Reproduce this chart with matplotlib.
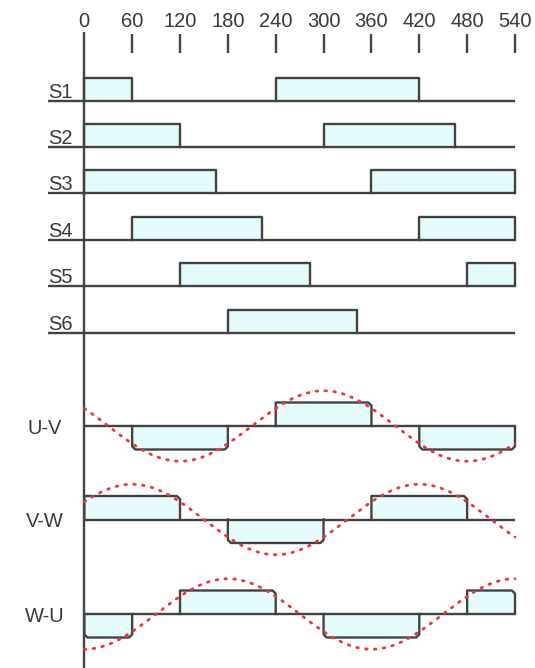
import matplotlib
matplotlib.use('Agg')
import matplotlib.pyplot as plt
import numpy as np

# ---------------- data ----------------
tick_degrees = [0, 60, 120, 180, 240, 300, 360, 420, 480, 540]

switch_names = ['S1', 'S2', 'S3', 'S4', 'S5', 'S6']
switch_on = [
    [(0, 60), (240, 420)],
    [(0, 120), (300, 465)],
    [(0, 165), (360, 540)],
    [(60, 223), (420, 540)],
    [(120, 283), (480, 540)],
    [(180, 342)],
]

line_names = ['U-V', 'V-W', 'W-U']
segment_edges = [0, 60, 120, 180, 240, 300, 360, 420, 480, 540]
line_levels = [
    [0, -1, -1, 0, 1, 1, 0, -1, -1],
    [1, 1, 0, -1, -1, 0, 1, 1, 0],
    [-1, 0, 1, 1, 0, -1, -1, 0, 1],
]
sine_peak_deg = [300, 60, 180]
sine_amp = 1.5

# ---------------- style / layout ----------------
W, H = 535, 668
X0PX, X540PX = 84.3, 515.0
scale = (X540PX - X0PX) / 540.0
LINE = '#424242'
FILL = '#e6fbfb'
RED = '#e8383a'
TXT = '#3a3a3a'
FONT = ['Liberation Sans', 'DejaVu Sans']
plt.rcParams['font.family'] = FONT
FS = 14.5

fig = plt.figure(figsize=(W / 100, H / 100), dpi=100)
ax = fig.add_axes([0, 0, 1, 1])
ax.set_xlim(-X0PX / scale, (W - X0PX) / scale)
ax.set_ylim(H, 0)
ax.axis('off')

def px(d):
    return d / scale

lw = 1.7

# top scale
for t in tick_degrees:
    if t == 0:
        ax.plot([t, t], [32, H], color=LINE, lw=lw, solid_capstyle='butt')
    else:
        ax.plot([t, t], [34, 53], color=LINE, lw=lw, solid_capstyle='butt')
    ax.text(t, 27, str(t), ha='center', va='baseline', fontsize=FS,
            color=TXT)

# switch rows
s_base0, s_step, s_h = 100.5, 46.4, 23
for i, (name, pulses) in enumerate(zip(switch_names, switch_on)):
    yb = s_base0 + i * s_step
    for a, b in pulses:
        ax.fill_between([a, b], [yb, yb], [yb - s_h, yb - s_h], color=FILL,
                        lw=0)
        ax.plot([a, a, b, b], [yb, yb - s_h, yb - s_h, yb], color=LINE, lw=lw)
    ax.plot([px(48 - X0PX), 540], [yb, yb], color=LINE, lw=lw,
            solid_capstyle='butt')
    ax.text(px(48 - X0PX), yb - 3, name, ha='left', va='baseline',
            fontsize=FS, color=TXT)

# line-voltage rows
v_base = [426, 519.5, 614]
v_h = 23.5
bx, by = 4.0, 0.13
xs_sine = np.linspace(0, 540, 400)
for name, levels, pk, yb in zip(line_names, line_levels, sine_peak_deg, v_base):
    segs = []
    for k, L in enumerate(levels):
        a, b = segment_edges[k], segment_edges[k + 1]
        if segs and segs[-1][2] == L:
            segs[-1][1] = b
        else:
            segs.append([a, b, L])
    for a, b, L in segs:
        if L == 0:
            continue
        yl = yb - L * v_h
        ax.fill_between([a, b], [yb, yb], [yl, yl], color=FILL, lw=0)
        if L < 0:
            xsq = [a, a, a + bx, b - bx, b, b]
            ysq = [yb, yb - L * v_h * (1 - by), yl, yl,
                   yb - L * v_h * (1 - by), yb]
        else:
            xsq = [a, a, b - bx, b, b]
            ysq = [yb, yl, yl, yb - L * v_h * (1 - by), yb]
        ax.plot(xsq, ysq, color=LINE, lw=lw)
    ax.plot([0, 540], [yb, yb], color=LINE, lw=lw, solid_capstyle='butt')
    ys = yb - sine_amp * v_h * np.cos(np.deg2rad(xs_sine - pk))
    ax.plot(xs_sine, ys, color=RED, lw=2.0, linestyle=(0, (0.6, 2.6)),
            dash_capstyle='round')
    ax.text(px(45 - X0PX), yb + 7.5, name, ha='center', va='baseline',
            fontsize=FS, color=TXT)

fig.savefig('out.png', dpi=100)
